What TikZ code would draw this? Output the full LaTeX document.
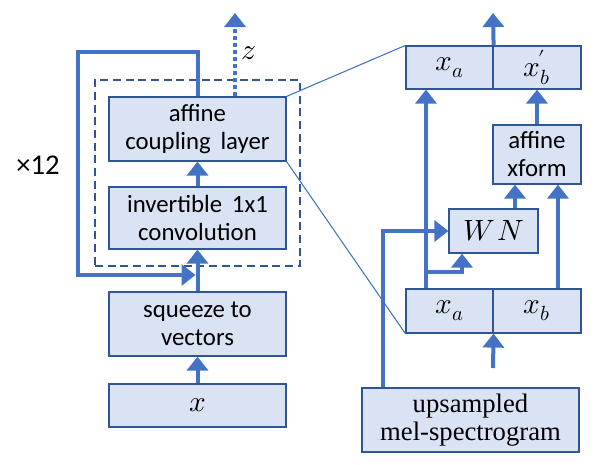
\documentclass[tikz,border=0pt]{standalone}
\usepackage{fontspec}
\usepackage{unicode-math}
\setmainfont{Carlito}
\setmathfont{Latin Modern Math}
\newfontfamily\serifmel{Liberation Serif}
\usetikzlibrary{arrows.meta}
\definecolor{boxfill}{HTML}{DAE3F3}
\definecolor{boxline}{HTML}{2F5597}
\definecolor{arrowc}{HTML}{4472C4}
\begin{document}
\begin{tikzpicture}[x=0.75pt,y=-0.75pt,
  box/.style={draw=boxline, fill=boxfill, line width=0.9pt, inner sep=0pt, align=center, font=\fontsize{18.6}{21}\selectfont},
  mathlbl/.style={font=\fontsize{22}{24}\selectfont},
  arr/.style={draw=arrowc, line width=3pt, -{Triangle[width=15.75pt,length=10.5pt]}},
  thinline/.style={draw=arrowc, line width=0.8pt},
  grpbox/.style={draw=boxline, dash pattern=on 6pt off 3.5pt, line width=0.9pt, inner sep=0pt}]
\useasboundingbox (0,0) rectangle (601,465);
% group
\node[grpbox, minimum width=153.75pt, minimum height=139.5pt] (grp) at (197.5,173) {};
% left column
\node[box, minimum width=132.75pt, minimum height=48pt] (aff) at (197.5,129) {affine\\coupling\, layer};
\node[box, minimum width=132.75pt, minimum height=46.5pt] (inv) at (197.5,218) {invertible\, 1x1\\convolution};
\node[box, minimum width=132.75pt, minimum height=48pt] (sq) at (197.5,324) {squeeze to\\vectors};
\node[box, mathlbl, minimum width=132.75pt, minimum height=32.25pt] (xin) at (197.5,405.5) {$x$};
\node[font=\fontsize{21.5}{24}\selectfont] (rep) at (38,165) {×12};
\node[mathlbl] (zl) at (249,53) {$z$};
% right side
\node[box, mathlbl, minimum width=65.25pt, minimum height=32.25pt] (tA) at (449.5,67.5) {$x_a$};
\node[box, mathlbl, minimum width=66pt, minimum height=32.25pt] (tB) at (537,67.5) {$x_b^{\mkern-2mu\prime}$};
\node[box, minimum width=66pt, minimum height=44.25pt] (xf) at (537,154.5) {affine\\xform};
\node[box, mathlbl, minimum width=66.75pt, minimum height=33pt] (wn) at (493.5,231) {$W\mkern1.5mu N$};
\node[box, mathlbl, minimum width=65.25pt, minimum height=33pt] (bA) at (449.5,311) {$x_a$};
\node[box, mathlbl, minimum width=66pt, minimum height=33pt] (bB) at (537,311) {$x_b$};
\node[box, minimum width=162.75pt, minimum height=48pt, font=\serifmel\fontsize{20}{21}\selectfont] (mel) at (470.5,420) {upsampled\\mel-spectrogram};
% zoom lines
\draw[thinline] (aff.north east) -- (tA.north west);
\draw[thinline] (aff.south east) -- (bA.south west);
% left arrows
\draw[arr] (xin.north) -- (sq.south);
\draw[arr] (sq.north) -- (inv.south);
\draw[arr] (inv.north) -- (aff.south);
\draw[arr] (aff.north) -- (aff.north |- 0,52) -- (78,52) -- (78,275) -- ([xshift=-1.5pt]aff.north |- 0,275);
\coordinate (zend) at (235,13);
\draw[arr, dash pattern=on 3pt off 2.25pt] (aff.north -| zend) -- (zend);
% right arrows
\coordinate (out) at (493,13);
\draw[arr] (tA.north east) -- (out);
\coordinate (xl) at (426,0);
\draw[arr] (xl |- bA.north) -- (xl |- tA.south);
\draw[arr] (xl |- 0,272) -- (462,272) -- (462,0 |- wn.south);
\draw[arr] (515,0 |- wn.north) -- (515,0 |- xf.south);
\draw[arr] (558,0 |- bB.north) -- (558,0 |- xf.south);
\draw[arr] (xf.north) -- (tB.south);
\coordinate (inb) at (493,368);
\draw[arr] (inb) -- (bA.south east);
\draw[arr] (383,0 |- mel.north) -- (383,231) -- (wn.west);
\end{tikzpicture}
\end{document}
